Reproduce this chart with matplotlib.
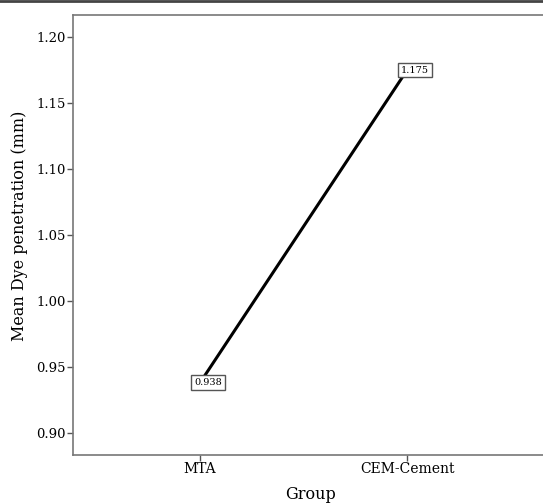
import matplotlib
matplotlib.use("Agg")
import matplotlib.pyplot as plt
from matplotlib.lines import Line2D

groups = ["MTA", "CEM-Cement"]
means = [0.938, 1.175]
yticks = [0.90, 0.95, 1.00, 1.05, 1.10, 1.15, 1.20]

plt.rcParams["font.family"] = ["DejaVu Serif"]

fig = plt.figure(figsize=(5.43, 5.04), dpi=100)
W, H = 543, 504
# axes: left 73px, top 15px, bottom 455px, right runs off the canvas
ax = fig.add_axes([73 / W, (H - 455) / H, 475 / W, 440 / H])

x = list(range(len(groups)))
ax.plot(x, means, color="black", lw=2.2, zorder=2)
for xi, m in zip(x, means):
    ax.annotate(f"{m:.3f}", (xi, m), xytext=(8, 0), textcoords="offset pixels",
                ha="center", va="center", fontsize=7, zorder=3,
                bbox=dict(boxstyle="square,pad=0.3", fc="white", ec="#555555", lw=1))

ax.set_xlim(-0.613, 1.68)
ax.set_ylim(0.8833, 1.2167)
ax.set_xticks(x)
ax.set_xticklabels(groups, fontsize=10)
ax.set_yticks(yticks)
ax.set_yticklabels([f"{v:.2f}" for v in yticks], fontsize=9.5)
ax.set_xlabel("Group", fontsize=11.5, labelpad=7)
ax.set_ylabel("Mean Dye penetration (mm)", fontsize=11.5)
ax.yaxis.set_label_coords(-0.095, 0.52)
ax.tick_params(color="#555555", length=4, width=1, pad=1)

for s in ax.spines.values():
    s.set_color("#777777")
    s.set_linewidth(1.2)
ax.spines["right"].set_visible(False)

fig.add_artist(Line2D([0, 1], [1 - 1 / H, 1 - 1 / H], color="#444444", lw=2,
                      transform=fig.transFigure))

fig.savefig("out.png", dpi=100)
